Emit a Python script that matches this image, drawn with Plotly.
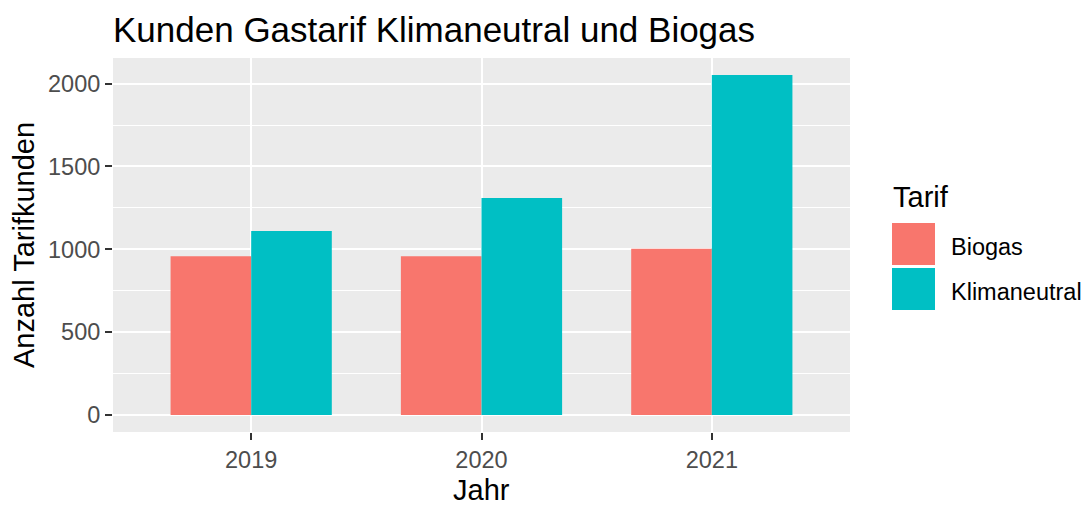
import plotly.graph_objects as go

# ---- data ----
jahre = ["2019", "2020", "2021"]
biogas = [958, 958, 1004]
klimaneutral = [1111, 1310, 2052]
tarife = ["Biogas", "Klimaneutral"]
farben = ["#F8766D", "#00BFC4"]
y_ticks = [0, 500, 1000, 1500, 2000]

OFF = 8  # browser body margin
W, H = 1092 - OFF, 506 - OFF
L, R, T, B = 113 - OFF, 850 - OFF, 58 - OFF, 432 - OFF  # panel edges in figure px
PW, PH = R - L, B - T


def px_x(px):  # px given in screenshot coordinates
    return (px - OFF - L) / PW


def px_y(py):
    return (B - (py - OFF)) / PH


FONT = "Liberation Sans, Arial, sans-serif"

fig = go.Figure()
for name, vals, col in zip(tarife, [biogas, klimaneutral], farben):
    fig.add_trace(go.Bar(x=jahre, y=vals, name=name, marker=dict(color=col, line=dict(width=0)),
                         showlegend=False))

ymax = max(max(biogas), max(klimaneutral))
fig.update_layout(
    width=W, height=H,
    margin=dict(l=L, r=W - R, t=T, b=H - B, autoexpand=False),
    paper_bgcolor="white", plot_bgcolor="#EBEBEB",
    barmode="group", bargap=0.3, bargroupgap=0,
    font=dict(family=FONT),
    title=dict(text="Kunden Gastarif Klimaneutral und Biogas", x=L / W,
               xanchor="left", xref="container", y=1 - (30 - OFF) / H, yanchor="middle", yref="container",
               font=dict(size=35, color="black", family=FONT)),
    xaxis=dict(type="category", range=[-0.6, 2.6], showgrid=True, gridcolor="white", gridwidth=2,
               ticks="outside", ticklen=7, tickwidth=1.5, tickcolor="#333333",
               tickfont=dict(size=23.5, color="#4D4D4D"), showline=False, zeroline=False,
               automargin=False),
    yaxis=dict(range=[-0.05 * ymax, 1.05 * ymax], tickvals=y_ticks, showgrid=True, gridcolor="white",
               gridwidth=2, ticks="outside", ticklen=7, tickwidth=1.5, tickcolor="#333333",
               tickfont=dict(size=23.5, color="#4D4D4D"), zeroline=False, showline=False,
               minor=dict(dtick=250, tick0=0, showgrid=True, gridcolor="white", gridwidth=1),
               automargin=False),
)

# axis titles
fig.add_annotation(text="Jahr", xref="paper", yref="paper", x=0.5, y=px_y(490),
                   xanchor="center", yanchor="middle", showarrow=False,
                   font=dict(size=29, color="black"))
fig.add_annotation(text="Anzahl Tarifkunden", xref="paper", yref="paper", x=px_x(24), y=0.5,
                   xanchor="center", yanchor="middle", textangle=-90, showarrow=False,
                   font=dict(size=29, color="black"))

# legend (drawn manually to match ggplot key sizes)
fig.add_annotation(text="Tarif", xref="paper", yref="paper", x=px_x(891), y=px_y(197),
                   xanchor="left", yanchor="middle", showarrow=False,
                   font=dict(size=29, color="black"))
key_tops = [223, 268]
for (name, col, top) in zip(tarife, farben, key_tops):
    fig.add_shape(type="rect", xref="paper", yref="paper", x0=px_x(892), x1=px_x(935),
                  y0=px_y(top + 42), y1=px_y(top), fillcolor=col, line=dict(width=0), layer="above")
    fig.add_annotation(text=name, xref="paper", yref="paper", x=px_x(949), y=px_y(top + 24),
                       xanchor="left", yanchor="middle", showarrow=False,
                       font=dict(size=23.5, color="black"))

fig.write_html("out.html")
